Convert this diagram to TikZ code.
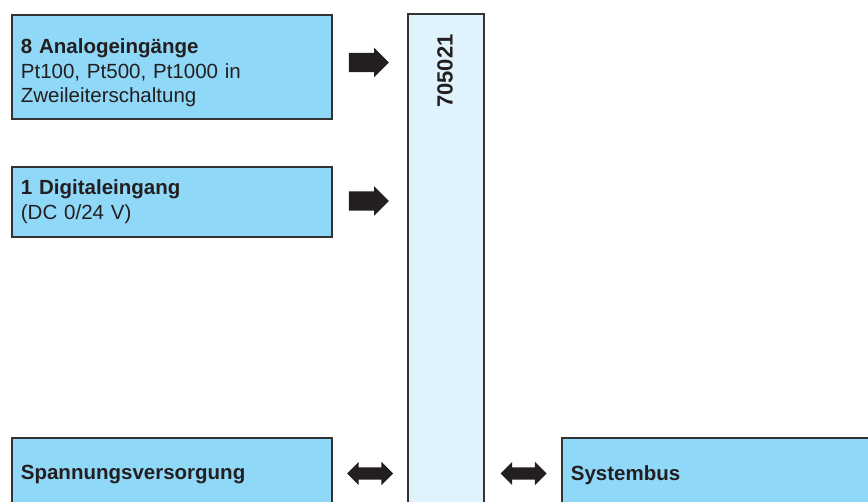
\documentclass[tikz,border=0pt]{standalone}
\usepackage{fontspec}
\setmainfont{Liberation Sans}
\usetikzlibrary{shapes.arrows}

\definecolor{boxblue}{RGB}{143,216,247}
\definecolor{modblue}{RGB}{224,242,252}
\definecolor{framegray}{RGB}{51,51,51}
\definecolor{ink}{RGB}{35,31,32}

\tikzset{
  inbox/.style={rectangle, draw=framegray, line width=1.8pt, fill=boxblue,
    anchor=north west, minimum width=320pt, text width=302pt,
    inner xsep=9pt, inner ysep=0pt, align=left, text=ink,
    font=\fontsize{20.5}{24.5}\selectfont},
  fwdarrow/.style={single arrow, fill=ink, inner xsep=0pt, inner ysep=9.5pt,
    minimum height=40pt, single arrow head extend=5pt},
  busarrow/.style={double arrow, fill=ink, inner xsep=0pt, inner ysep=6pt,
    minimum height=46pt, double arrow head extend=5.5pt}
}

\begin{document}
\begin{tikzpicture}[x=1pt,y=1pt]
      \clip (0,0) rectangle (868,501);
      \node[inbox, minimum height=104pt] (analog) at (11,487)
        {\rule{0pt}{27pt}\textbf{8 Analogeingänge}\\Pt100, Pt500, Pt1000 in\\Zweileiterschaltung};
      \node[inbox, minimum height=70pt] (digital) at (11,335)
        {\textbf{1 Digitaleingang}\\(DC 0/24 V)};
      \node[inbox, minimum height=74pt] (supply) at (11,64)
        {\textbf{Spannungsversorgung}};
      \node[inbox, minimum height=74pt, minimum width=330pt, text width=312pt]
        (bus) at (561,64) {\textbf{Systembus}};
      \node[rectangle, draw=framegray, line width=1.8pt, fill=modblue,
        anchor=north west, minimum width=76pt, minimum height=520pt,
        inner sep=0pt] (module) at (407,488) {};
      \node[rotate=90, text=ink, font=\bfseries\fontsize{22}{22}\selectfont]
        (modnr) at (445,430) {705021};
      \node[fwdarrow] (ain) at (364,438.5) {};
      \node[fwdarrow] (din) at (364,300) {};
      \node[busarrow] (pwr) at (370,27.5) {};
      \node[busarrow] (sys) at (523.5,27.5) {};
    \end{tikzpicture}
\end{document}
